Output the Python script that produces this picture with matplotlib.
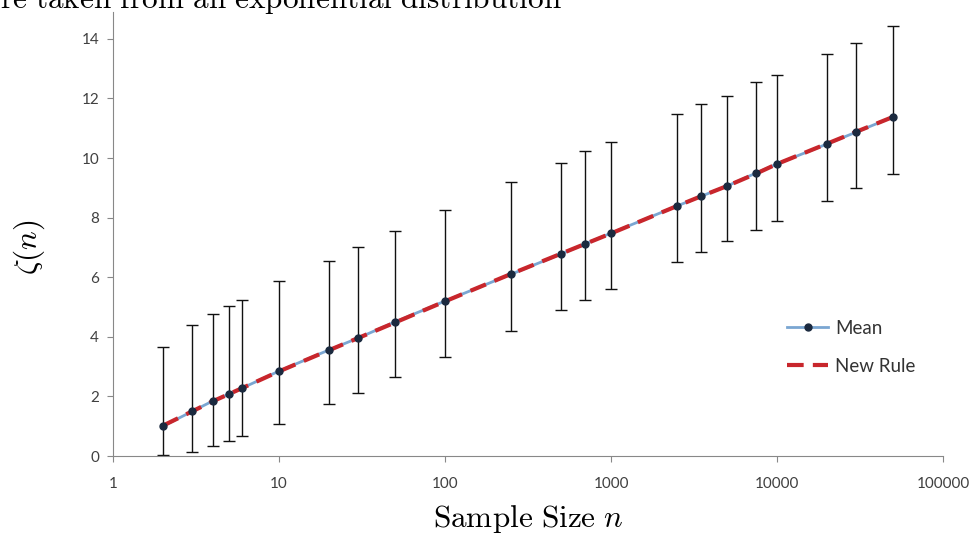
"""Mean of the maximum of n exponential samples, with spread bars and the new rule."""
import numpy as np
import matplotlib
matplotlib.use('Agg')
import matplotlib.pyplot as plt
from matplotlib.ticker import FixedLocator, FuncFormatter, NullLocator

plt.rcParams['mathtext.fontset'] = 'cm'
plt.rcParams['font.family'] = ['Lato', 'DejaVu Sans']

# sample sizes and values
sizes = [2, 3, 4, 5, 6, 10, 20, 30, 50, 100, 250, 500, 700, 1000,
         2500, 3500, 5000, 7500, 10000, 20000, 30000, 50000]
means = [1.00, 1.50, 1.85, 2.08, 2.28, 2.85, 3.56, 3.96, 4.50, 5.20, 6.10, 6.78,
         7.12, 7.48, 8.39, 8.72, 9.06, 9.50, 9.80, 10.47, 10.87, 11.38]
new_rule = [1.02, 1.50, 1.84, 2.08, 2.28, 2.84, 3.55, 3.96, 4.48, 5.19, 6.11, 6.79,
            7.12, 7.47, 8.39, 8.72, 9.06, 9.48, 9.80, 10.48, 10.88, 11.38]
upper = [3.66, 4.40, 4.75, 5.02, 5.25, 5.88, 6.55, 7.02, 7.55, 8.27, 9.20, 9.82,
         10.25, 10.55, 11.48, 11.81, 12.08, 12.55, 12.79, 13.50, 13.87, 14.42]
lower = [0.02, 0.13, 0.35, 0.50, 0.67, 1.08, 1.75, 2.13, 2.65, 3.32, 4.20, 4.90,
         5.22, 5.60, 6.52, 6.85, 7.20, 7.60, 7.90, 8.57, 8.99, 9.46]
xticks = [1, 10, 100, 1000, 10000, 100000]
yticks = [0, 2, 4, 6, 8, 10, 12, 14]

means = np.array(means)
err = [means - np.array(lower), np.array(upper) - means]

fig = plt.figure(figsize=(9.72, 5.38), dpi=100)
ax = fig.add_axes([0.1163, 0.1524, 0.8539, 0.8253])

ax.errorbar(sizes, means, yerr=err, fmt='none', ecolor='#111111', elinewidth=1.0,
            capsize=4, capthick=1.0, zorder=2)
ax.plot(sizes, means, color='#7aa6d2', lw=2, zorder=3)
ax.plot(sizes, new_rule, color='#c8262c', lw=3, dashes=(4, 2.2), zorder=4)
ax.plot(sizes, means, ls='none', marker='o', ms=5, color='#1b2a3f', zorder=5)

# legend proxies
h1, = ax.plot([], [], color='#7aa6d2', lw=2, marker='o', ms=5,
              mfc='#1b2a3f', mec='#1b2a3f')
h2, = ax.plot([], [], color='#c8262c', lw=3, dashes=(4, 2.2))
leg = ax.legend([h1, h2], ['Mean', 'New Rule'], loc='center left',
                bbox_to_anchor=(0.812, 0.245), frameon=False, fontsize=13.5,
                handlelength=2.2, labelspacing=1.1, handletextpad=0.35,
                borderpad=0, borderaxespad=0)
for t in leg.get_texts():
    t.set_color('#333333')

ax.set_xscale('log')
ax.set_xlim(1, 100000)
ax.set_ylim(0, 14.9)
ax.xaxis.set_major_locator(FixedLocator(xticks))
ax.xaxis.set_minor_locator(NullLocator())
ax.xaxis.set_major_formatter(FuncFormatter(lambda v, p: '%d' % v))
ax.set_yticks(yticks)

for s in ['top', 'right']:
    ax.spines[s].set_visible(False)
for s in ['left', 'bottom']:
    ax.spines[s].set_color('#888888')
ax.tick_params(axis='both', colors='#888888', labelcolor='#404040',
               labelsize=11, length=4, direction='out')
ax.tick_params(axis='x', pad=11)
ax.tick_params(axis='y', pad=6)

ax.set_xlabel(r'$\mathrm{Sample\ Size}\ n$', fontsize=22.5)
ax.xaxis.set_label_coords(0.5, -0.105)
ax.set_ylabel(r'$\zeta(n)$', fontsize=22.5)
ax.yaxis.set_label_coords(-0.08, 0.47)

fig.text(0.0, 1 - 8 / 538, r'$\mathrm{re\ taken\ from\ an\ exponential\ distribution}$',
         fontsize=22.5, va='baseline', ha='left')

fig.savefig('out.png', dpi=100)
